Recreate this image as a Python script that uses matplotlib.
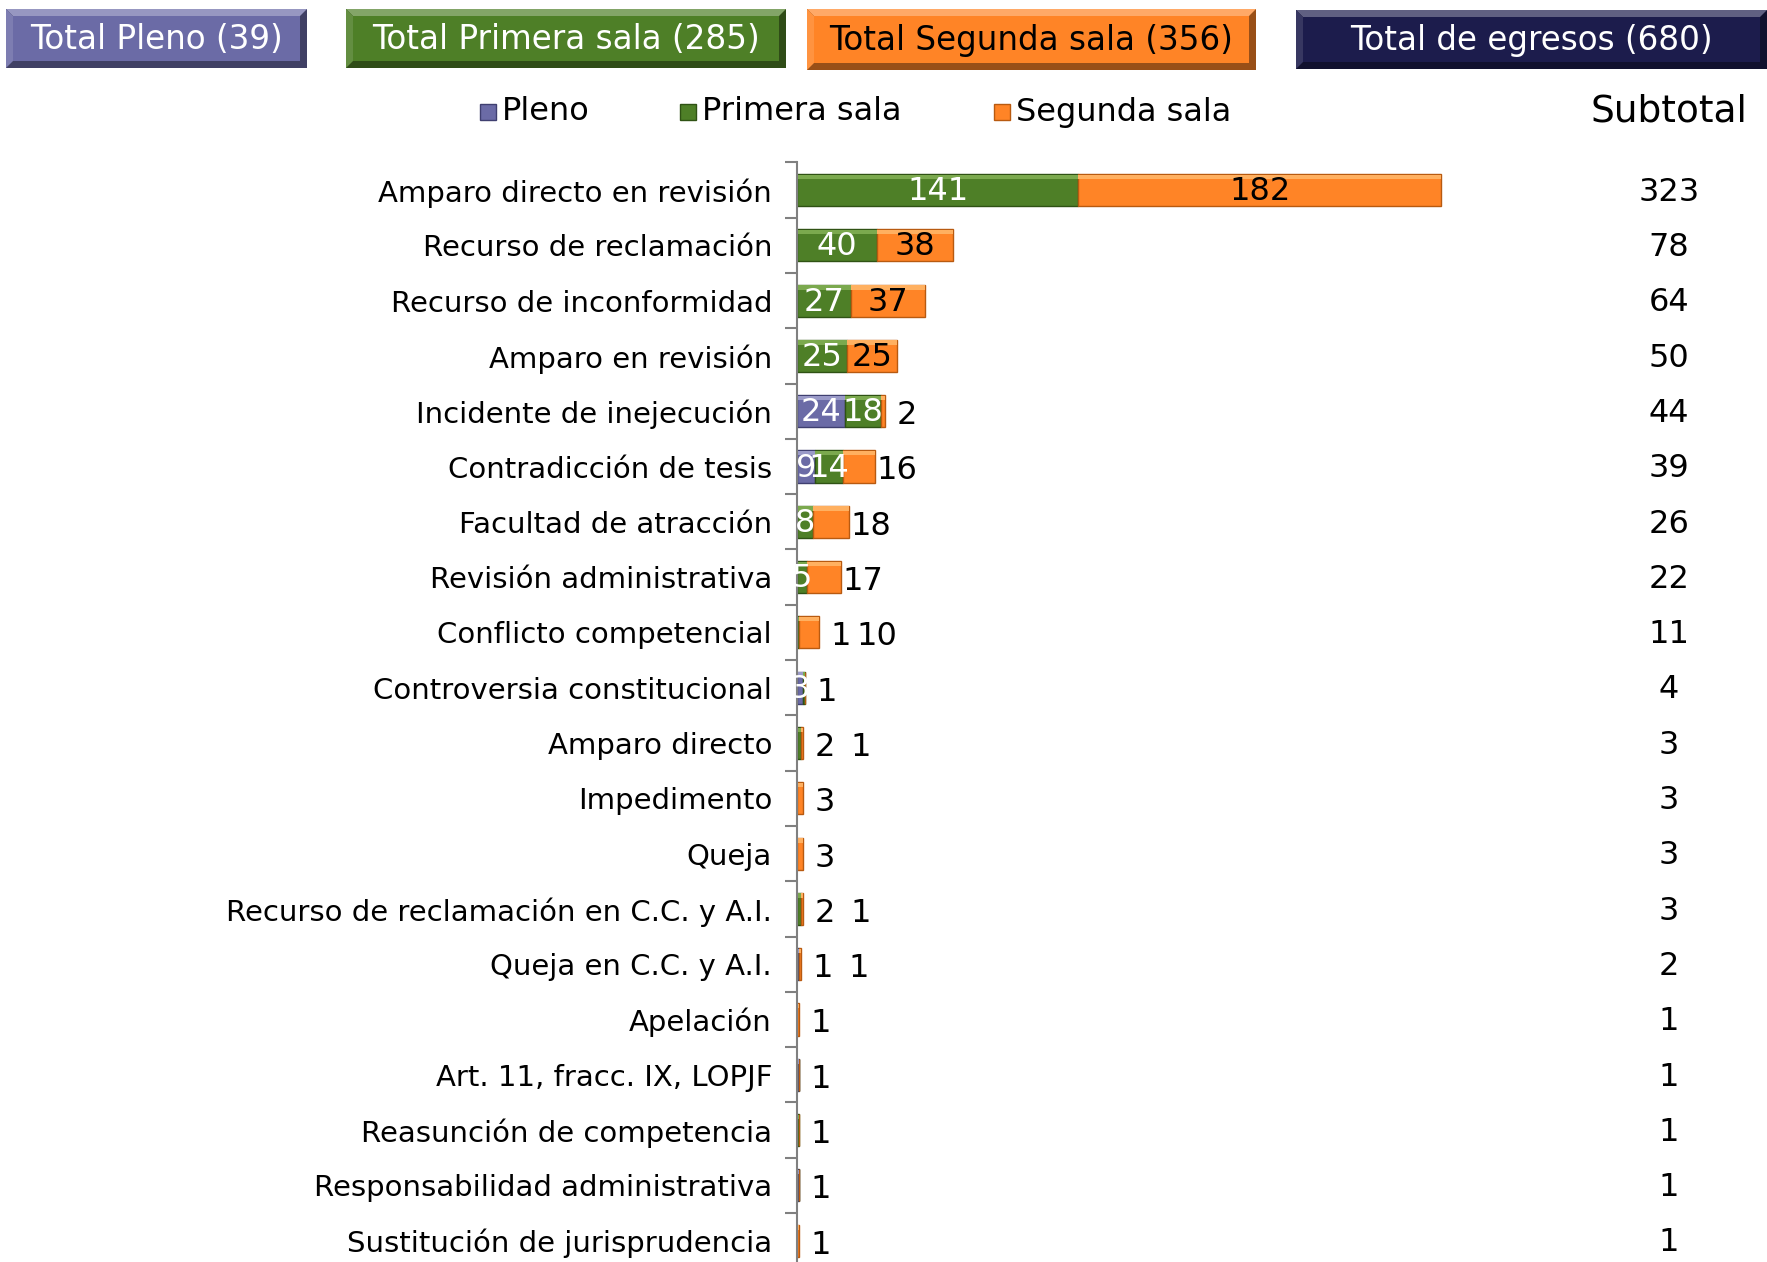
import matplotlib
matplotlib.use("Agg")
import matplotlib.pyplot as plt
import matplotlib.transforms as mtransforms
from matplotlib.patches import Rectangle, Polygon
import numpy as np

categories = [
    "Amparo directo en revisión",
    "Recurso de reclamación",
    "Recurso de inconformidad",
    "Amparo en revisión",
    "Incidente de inejecución",
    "Contradicción de tesis",
    "Facultad de atracción",
    "Revisión administrativa",
    "Conflicto competencial",
    "Controversia constitucional",
    "Amparo directo",
    "Impedimento",
    "Queja",
    "Recurso de reclamación en C.C. y A.I.",
    "Queja en C.C. y A.I.",
    "Apelación",
    "Art. 11, fracc. IX, LOPJF",
    "Reasunción de competencia",
    "Responsabilidad administrativa",
    "Sustitución de jurisprudencia",
]
pleno = [0, 0, 0, 0, 24, 9, 0, 0, 0, 3, 0, 0, 0, 0, 1, 0, 1, 0, 1, 0]
primera = [141, 40, 27, 25, 18, 14, 8, 5, 1, 1, 2, 0, 0, 2, 0, 0, 0, 1, 0, 0]
segunda = [182, 38, 37, 25, 2, 16, 18, 17, 10, 0, 1, 3, 3, 1, 1, 1, 0, 0, 0, 1]
series_names = ["Pleno", "Primera sala", "Segunda sala"]
box_labels = ["Total Pleno", "Total Primera sala", "Total Segunda sala", "Total de egresos"]

C_PLENO = "#6B6BA6"
C_PRIM = "#4E7F27"
C_SEG = "#FF8426"
C_NAVY = "#1C1C4C"
E_PLENO = "#3F3F70"
E_PRIM = "#2F5214"
E_SEG = "#B85A10"

W, H = 1767, 1262
fig = plt.figure(figsize=(W / 100, H / 100), dpi=100)

# main axes geometry in pixels
ax_left_px = 797
px_per_unit = 1.995
xmax = 400
row_px = 55.3
top_px = 190 - row_px / 2
n = len(categories)
bottom_px = top_px + n * row_px
ax = fig.add_axes([ax_left_px / W, 1 - bottom_px / H,
                   xmax * px_per_unit / W, (bottom_px - top_px) / H])
ax.set_xlim(0, xmax)
ax.set_ylim(n - 0.5, -0.5)

y = np.arange(n)
p = np.array(pleno)
a = np.array(primera)
s = np.array(segunda)
hgt = 0.58
ax.barh(y, p, height=hgt, color=C_PLENO, edgecolor=E_PLENO, linewidth=1)
ax.barh(y, a, left=p, height=hgt, color=C_PRIM, edgecolor=E_PRIM, linewidth=1)
ax.barh(y, s, left=p + a, height=hgt, color=C_SEG, edgecolor=E_SEG, linewidth=1)
# subtle highlight on the top of the bars
ax.barh(y - hgt / 2 + 0.05, p, height=0.08, color="#9A9AC8", linewidth=0)
ax.barh(y - hgt / 2 + 0.05, a, left=p, height=0.08, color="#7BA94E", linewidth=0)
ax.barh(y - hgt / 2 + 0.05, s, left=p + a, height=0.08, color="#FFB060", linewidth=0)

for sp in ["top", "right", "bottom"]:
    ax.spines[sp].set_visible(False)
ax.spines["left"].set_color("#808080")
ax.spines["left"].set_linewidth(1.5)
ax.set_xticks([])
ax.set_yticks(y)
ax.set_yticklabels(categories, fontsize=21)
ax.tick_params(axis="y", length=0, pad=18)
ax.set_yticks(np.arange(n + 1) - 0.5, minor=True)
ax.tick_params(axis="y", which="minor", length=9, width=1.5, color="#808080")

FS = 23
for i in range(n):
    total = p[i] + a[i] + s[i]
    queue = []
    if p[i] > 0:
        if p[i] >= 3:
            ax.text(p[i] / 2, i + 0.03, str(p[i]), ha="center", va="center", color="white", fontsize=FS)
        else:
            queue.append(p[i])
    if a[i] > 0:
        if a[i] >= 3:
            ax.text(p[i] + a[i] / 2, i + 0.03, str(a[i]), ha="center", va="center", color="white", fontsize=FS)
        else:
            queue.append(a[i])
    if s[i] > 0:
        if s[i] >= 20:
            ax.text(p[i] + a[i] + s[i] / 2, i + 0.03, str(s[i]), ha="center", va="center", color="black", fontsize=FS)
        else:
            queue.append(s[i])
    xq = total + 11
    for v in queue:
        ax.text(xq, i + 0.08, str(v), ha="center", va="center", color="black", fontsize=FS,
                clip_on=False)
        xq += 18

# subtotal column
tr = mtransforms.blended_transform_factory(fig.transFigure, ax.transData)
for i in range(n):
    ax.text(1669 / W, i + 0.04, str(p[i] + a[i] + s[i]), transform=tr, ha="center",
            va="center", fontsize=FS, color="black", clip_on=False)

# overlay for header elements in pixel coords
ov = fig.add_axes([0, 0, 1, 1], zorder=5)
ov.set_xlim(0, W)
ov.set_ylim(H, 0)
ov.axis("off")
ov.patch.set_alpha(0)

ov.text(1669, 111, "Subtotal", ha="center", va="center", fontsize=27, color="black")


def shade(c, f):
    import matplotlib.colors as mc
    r, g, b = mc.to_rgb(c)
    if f < 1:
        return (r * f, g * f, b * f)
    return (r + (1 - r) * (f - 1), g + (1 - g) * (f - 1), b + (1 - b) * (f - 1))


def bevel_box(x0, x1, y0, y1, color, text, tcolor):
    b = 7
    ov.add_patch(Rectangle((x0, y0), x1 - x0, y1 - y0, facecolor=shade(color, 0.6), edgecolor="none"))
    ov.add_patch(Polygon([(x0, y0), (x1, y0), (x1 - b, y0 + b), (x0 + b, y0 + b)],
                         closed=True, facecolor=shade(color, 1.3), edgecolor="none"))
    ov.add_patch(Polygon([(x0, y0), (x0 + b, y0 + b), (x0 + b, y1 - b), (x0, y1)],
                         closed=True, facecolor=shade(color, 1.12), edgecolor="none"))
    ov.add_patch(Rectangle((x0 + b, y0 + b), x1 - x0 - 2 * b, y1 - y0 - 2 * b,
                           facecolor=color, edgecolor="none"))
    ov.text((x0 + x1) / 2, (y0 + y1) / 2 + 1, text, ha="center", va="center",
            fontsize=23.5, color=tcolor)


tot_p = int(p.sum())
tot_a = int(a.sum())
tot_s = int(s.sum())
tot = tot_p + tot_a + tot_s
bevel_box(6, 307, 9, 68, C_PLENO, f"{box_labels[0]} ({tot_p})", "white")
bevel_box(346, 786, 9, 68, C_PRIM, f"{box_labels[1]} ({tot_a})", "white")
bevel_box(807, 1256, 9, 70, C_SEG, f"{box_labels[2]} ({tot_s})", "black")
bevel_box(1296, 1767, 10, 69, C_NAVY, f"{box_labels[3]} ({tot})", "white")

# legend
leg_x = [488, 688, 1002]
leg_c = [C_PLENO, C_PRIM, C_SEG]
leg_e = [E_PLENO, E_PRIM, E_SEG]
for xx, cc, ee, nm in zip(leg_x, leg_c, leg_e, series_names):
    ov.add_patch(Rectangle((xx - 8, 104), 16, 16, facecolor=cc, edgecolor=ee, linewidth=1))
    ov.text(xx + 14, 112, nm, ha="left", va="center", fontsize=23, color="black")

fig.savefig("out.png", dpi=100)
